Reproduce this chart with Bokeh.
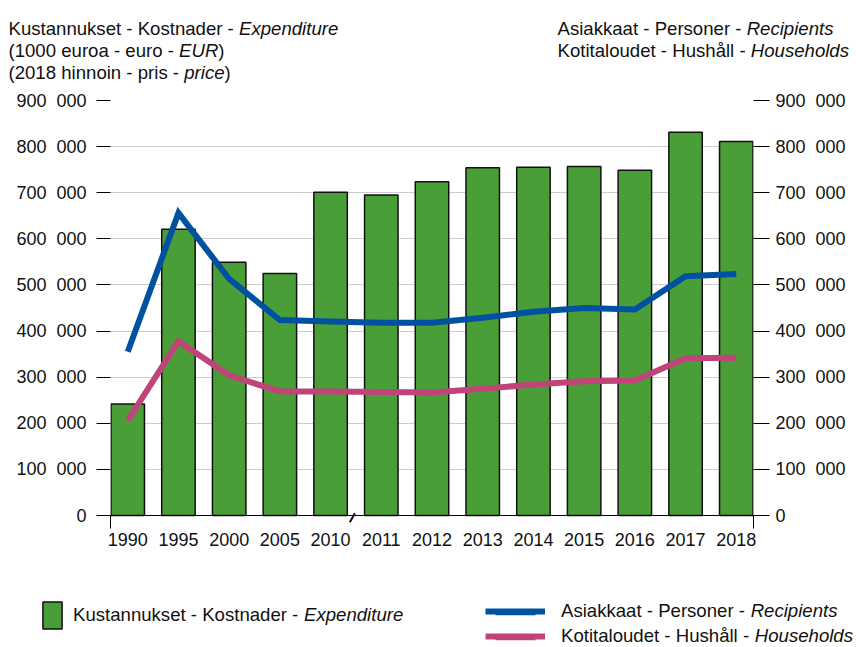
from bokeh.plotting import figure
from bokeh.layouts import column
from bokeh.models import (Range1d, FixedTicker, LinearAxis, Label, Legend,
                          LegendItem, Arrow, Span, ColumnDataSource)
from bokeh.embed import file_html
from bokeh.resources import INLINE

# ---------------- data ----------------
years = ["1990", "1995", "2000", "2005", "2010", "2011", "2012",
         "2013", "2014", "2015", "2016", "2017", "2018"]
expenditure = [242000, 621000, 549000, 525000, 701000, 695000, 724000,
               754000, 755000, 757000, 749000, 831000, 811000]
recipients = [355000, 656000, 513000, 424000, 421000, 418000, 418000,
              429000, 442000, 450000, 447000, 519000, 524000]
households = [206000, 378000, 304000, 269000, 269000, 268000, 267000,
              275000, 284000, 291000, 293000, 341000, 342000]
y_ticks = [0, 100000, 200000, 300000, 400000, 500000, 600000, 700000,
           800000, 900000]
y_tick_labels = ["0", "100\u2007000", "200\u2007000", "300\u2007000",
                 "400\u2007000", "500\u2007000", "600\u2007000",
                 "700\u2007000", "800\u2007000", "900\u2007000"]

title_left = [("Kustannukset - Kostnader - ", "Expenditure", ""),
              ("(1000 euroa - euro - ", "EUR", " )"),
              ("(2018 hinnoin - pris - ", "price", ")")]
title_right = [("Asiakkaat - Personer - ", "Recipients", ""),
               ("Kotitaloudet - Hushåll - ", "Households", "")]
legend_bar = ("Kustannukset - Kostnader - ", "Expenditure")
legend_rec = ("Asiakkaat - Personer - ", "Recipients")
legend_hh = ("Kotitaloudet - Hushåll - ", "Households")

# ---------------- style ----------------
FONT = "Liberation Sans"
FS = 18.6
GREEN = "#4a9e37"
BLUE = "#0052a0"
PINK = "#c0447a"
TXT = "#111111"
WIDTH = 856
HEAD_H = 86
MAIN_H = 479
FOOT_H = 647 - HEAD_H - MAIN_H

# Arial / Liberation Sans advance widths (1/1000 em)
W = {" ": 278, "-": 333, "(": 333, ")": 333, "å": 556,
     "a": 556, "b": 556, "c": 500, "d": 556, "e": 556, "f": 278, "g": 556,
     "h": 556, "i": 222, "j": 222, "k": 500, "l": 222, "m": 833, "n": 556,
     "o": 556, "p": 556, "q": 556, "r": 333, "s": 500, "t": 278, "u": 556,
     "v": 500, "w": 722, "x": 500, "y": 500, "z": 500,
     "A": 667, "E": 667, "H": 722, "K": 667, "P": 667, "R": 722, "U": 722}


def tw(s, size=FS):
    return sum(W.get(ch, 556) for ch in s) * size / 1000.0


def blank_fig(height, y0, y1):
    f = figure(width=WIDTH, height=height, output_backend="svg",
               toolbar_location=None, x_range=Range1d(0, WIDTH),
               y_range=Range1d(y1, y0), min_border=0,
               min_border_left=0, min_border_right=0, min_border_top=0,
               min_border_bottom=0, outline_line_color=None,
               x_axis_location=None, y_axis_location=None,
               background_fill_color="white", border_fill_color="white",
               frame_align=False)
    f.xgrid.visible = False
    f.ygrid.visible = False
    return f


def styled_line(f, x, y, parts, baseline="alphabetic"):
    cur = x
    for k, s in enumerate(parts):
        if not s:
            continue
        f.add_layout(Label(x=cur, y=y, text=s, text_font=FONT,
                           text_font_size=f"{FS}px", text_color=TXT,
                           text_baseline=baseline,
                           text_font_style="italic" if k == 1 else "normal"))
        cur += tw(s)


# ---------------- header (titles) ----------------
head = blank_fig(HEAD_H, 0, HEAD_H)
for i, parts in enumerate(title_left):
    styled_line(head, 8, 28 + 22 * i, parts)
for i, parts in enumerate(title_right):
    styled_line(head, 557, 28 + 22 * i, parts)

# ---------------- main chart ----------------
n = len(years)
idx = list(range(n))
src = ColumnDataSource(dict(x=idx, exp=expenditure, rec=recipients,
                            hh=households))

p = figure(width=WIDTH, height=MAIN_H, output_backend="svg", toolbar_location=None,
           x_range=Range1d(-0.34, n - 1 + 0.34), y_range=Range1d(-26000, 900000),
           min_border_left=110, min_border_right=103, min_border_top=14,
           min_border_bottom=38, outline_line_color=None,
           background_fill_color="white", border_fill_color="white",
           x_axis_location=None, y_axis_location=None, frame_align=False)

xaxis = LinearAxis(ticker=FixedTicker(ticks=idx, minor_ticks=[-0.335, n - 1 + 0.335]),
                   major_label_overrides={i: y for i, y in zip(idx, years)},
                   major_tick_line_color=None, major_tick_out=0, major_tick_in=0,
                   minor_tick_out=1, minor_tick_in=12, minor_tick_line_color="black",
                   axis_line_color=None, major_label_standoff=4,
                   major_label_text_font=FONT, major_label_text_font_size="18px",
                   major_label_text_color=TXT)
p.add_layout(xaxis, "below")

ylabels = {t: l for t, l in zip(y_ticks, y_tick_labels)}
yleft = LinearAxis(ticker=FixedTicker(ticks=y_ticks), major_label_overrides=ylabels,
                   axis_line_color=None, major_tick_out=14, major_tick_in=0,
                   major_tick_line_color="black", minor_tick_line_color=None,
                   major_label_standoff=10, major_label_text_font=FONT,
                   major_label_text_font_size="18px", major_label_text_color=TXT)
p.add_layout(yleft, "left")
yright = LinearAxis(ticker=FixedTicker(ticks=y_ticks), major_label_overrides=ylabels,
                    axis_line_color=None, major_tick_out=16, major_tick_in=0,
                    major_tick_line_color="black", minor_tick_line_color=None,
                    major_label_standoff=6, major_label_text_font=FONT,
                    major_label_text_font_size="18px", major_label_text_color=TXT)
p.add_layout(yright, "right")

p.xgrid.visible = False
p.ygrid.ticker = FixedTicker(ticks=y_ticks[1:-1])
p.ygrid.grid_line_color = "#cccccc"
p.ygrid.grid_line_width = 1

bars = p.vbar(x="x", top="exp", width=0.66, bottom=0, source=src,
              fill_color=GREEN, line_color="#111111", line_width=1.5)
l_rec = p.line(x="x", y="rec", source=src, line_color=BLUE, line_width=6,
               line_join="miter")
l_hh = p.line(x="x", y="hh", source=src, line_color=PINK, line_width=6,
              line_join="miter")

# zero baseline
p.add_layout(Span(location=0, dimension="width", line_color="black",
                  line_width=1.2))
# axis break mark between 2010 and 2011
p.add_layout(Arrow(end=None, x_start=4.38, y_start=-14500, x_end=4.48,
                   y_end=5000, line_color="#111111", line_width=2))

# ---------------- footer (legend) ----------------
foot = blank_fig(FOOT_H, HEAD_H + MAIN_H, 647)
# legend key renderers: placed beneath their own legend keys (hidden by them)
d_bar = foot.vbar(x=[52], top=[615], bottom=[615], width=1, fill_color=GREEN,
                  line_color=GREEN, line_width=1)
d_bar.glyph.line_color = "#111111"
d_bar.glyph.line_width = 1.5
d_bar.nonselection_glyph = None
d_rec = foot.line(x=[495, 535], y=[611.7, 611.7], line_color=BLUE, line_width=6)
d_hh = foot.line(x=[495, 535], y=[636.7, 636.7], line_color=PINK, line_width=6)

common = dict(padding=0, margin=0, border_line_color=None,
              background_fill_alpha=0, label_text_font=FONT,
              label_text_font_size=f"{FS}px", label_text_color=TXT, spacing=0,
              label_height=20)
leg1 = Legend(items=[LegendItem(label=legend_bar[0], renderers=[d_bar])],
              location=(40, 647 - 632), glyph_width=24, glyph_height=34,
              label_standoff=9, **common)
leg2 = Legend(items=[LegendItem(label=legend_rec[0], renderers=[d_rec])],
              location=(485, 647 - 621.7), glyph_width=60, glyph_height=20,
              label_standoff=16, **common)
leg3 = Legend(items=[LegendItem(label=legend_hh[0], renderers=[d_hh])],
              location=(485, 647 - 646.7), glyph_width=60, glyph_height=20,
              label_standoff=16, **common)
for lg in (leg1, leg2, leg3):
    foot.add_layout(lg, "center")

for x0, yc, parts in ((73, 614, legend_bar), (561, 610.3, legend_rec),
                      (561, 635.3, legend_hh)):
    foot.add_layout(Label(x=x0 + tw(parts[0]), y=yc, text=parts[1],
                          text_font=FONT, text_font_size=f"{FS}px",
                          text_color=TXT, text_baseline="middle",
                          text_font_style="italic"))

layout = column(head, p, foot, spacing=0)
open("out.html", "w").write(file_html(layout, INLINE))
